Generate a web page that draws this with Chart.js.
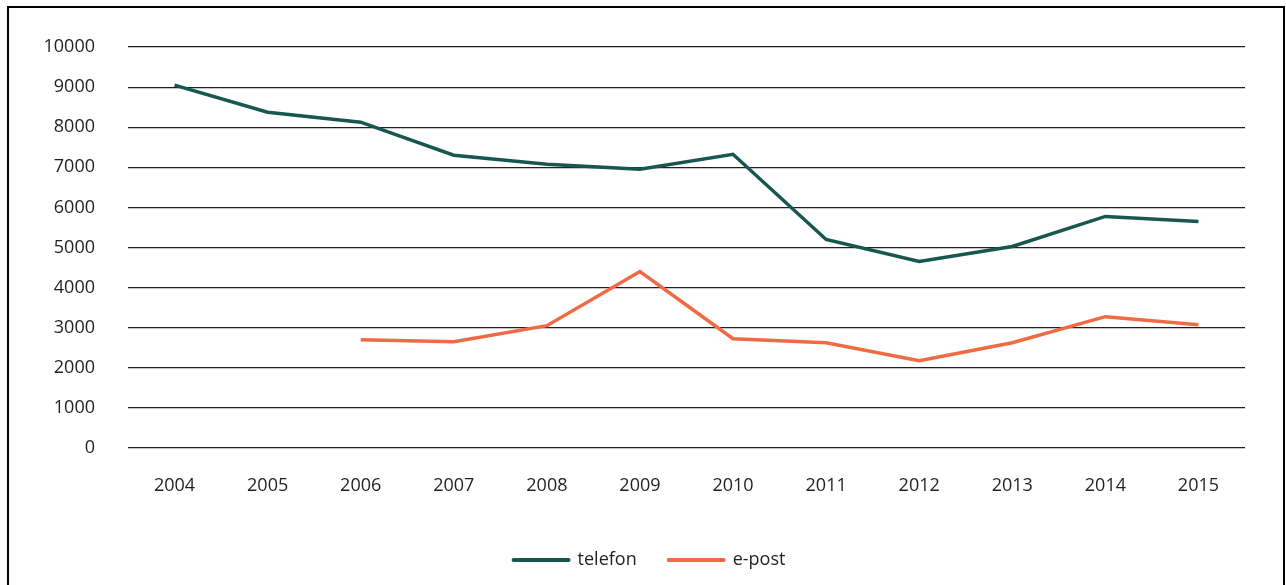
<!DOCTYPE html>
<html>
<head>
<meta charset="utf-8">
<script src="https://cdn.jsdelivr.net/npm/chart.js"></script>
<style>
  html, body { margin: 0; padding: 0; background: #fff; overflow: hidden; }
  #wrap { position: relative; width: 1286px; height: 585px; }
  #frame { position: absolute; left: 7px; top: 6px; width: 1274px; height: 600px; border: 2px solid #000; }
  canvas { position: absolute; left: 0; top: 0; }
</style>
</head>
<body>
<div id="wrap">
  <div id="frame"></div>
  <canvas id="chart" width="1286" height="585"></canvas>
</div>
<script>
const years = ['2004', '2005', '2006', '2007', '2008', '2009', '2010', '2011', '2012', '2013', '2014', '2015'];
const telefon = [9050, 8375, 8125, 7300, 7075, 6950, 7325, 5200, 4650, 5025, 5775, 5650];
const epost = [null, null, 2700, 2650, 3050, 4400, 2725, 2625, 2175, 2625, 3275, 3075];
const yTicks = [0, 1000, 2000, 3000, 4000, 5000, 6000, 7000, 8000, 9000, 10000];

const textColor = '#231f20';
Chart.defaults.font.family = '"Open Sans", sans-serif';
Chart.defaults.font.size = 18;
Chart.defaults.color = textColor;

// nudge the legend so it sits centred under the whole frame
const legendShift = {
  id: 'legendShift',
  afterLayout(chart) {
    chart.legend.left += 7;
    chart.legend.right += 7;
  }
};

new Chart(document.getElementById('chart'), {
  type: 'line',
  data: {
    labels: years,
    datasets: [
      { label: 'telefon', data: telefon, borderColor: '#17574f', backgroundColor: '#17574f', borderWidth: 3.5, pointRadius: 0, tension: 0 },
      { label: 'e-post', data: epost, borderColor: '#f06a43', backgroundColor: '#f06a43', borderWidth: 3.5, pointRadius: 0, tension: 0 }
    ]
  },
  options: {
    responsive: false,
    animation: false,
    layout: { padding: { top: 47, right: 41, left: 40, bottom: 6 } },
    scales: {
      x: {
        offset: true,
        grid: { display: false, drawTicks: false },
        border: { display: false },
        ticks: { padding: 27, maxRotation: 0 },
        afterFit: s => { s.height = 71; }
      },
      y: {
        min: 0, max: 10000,
        afterBuildTicks: s => { s.ticks = yTicks.map(v => ({ value: v })); },
        grid: { color: textColor, lineWidth: 1.2, drawTicks: false },
        border: { display: false },
        ticks: { padding: 33, callback: v => String(v) },
        afterFit: s => { s.width = 88; }
      }
    },
    plugins: {
      tooltip: { enabled: false },
      legend: {
        position: 'bottom',
        labels: {
          usePointStyle: true,
          pointStyle: 'line',
          pointStyleWidth: 55,
          boxHeight: 18,
          padding: 32,
          generateLabels: chart => Chart.defaults.plugins.legend.labels.generateLabels(chart).map(l => ({ ...l, pointStyle: 'line', lineWidth: 4, lineCap: 'round' }))
        }
      }
    }
  },
  plugins: [legendShift]
});
</script>
</body>
</html>
